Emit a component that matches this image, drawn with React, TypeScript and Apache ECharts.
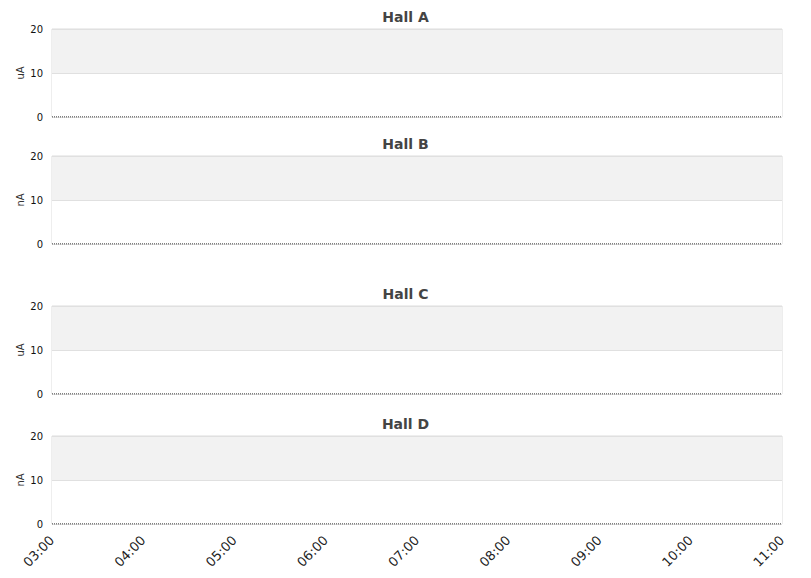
import { useEffect, useRef } from 'react'
import * as echarts from 'echarts'

const halls = ['Hall A', 'Hall B', 'Hall C', 'Hall D']
const units = ['uA', 'nA', 'uA', 'nA']
const hours = [3, 4, 5, 6, 7, 8, 9, 10, 11]
const currentValues = [0, 0, 0, 0, 0, 0, 0, 0, 0]

const gridTops = [29, 156, 306, 436]
const titleTops = [10, 137, 287, 417]

function hourLabel(value: number): string {
  return `${String(value).padStart(2, '0')}:00`
}

export default function App() {
  const chartRef = useRef<HTMLDivElement | null>(null)

  useEffect(() => {
    if (!chartRef.current) {
      return undefined
    }

    const chart = echarts.init(chartRef.current, undefined, { renderer: 'svg' })

    chart.setOption({
      animation: false,
      backgroundColor: '#fff',
      textStyle: { fontFamily: 'DejaVu Sans' },
      title: halls.map((hall, index) => ({
        text: hall,
        left: 'center',
        top: titleTops[index],
        padding: 0,
        textStyle: { fontSize: 14, fontWeight: 'bold', color: '#444', fontFamily: 'DejaVu Sans' },
      })),
      grid: gridTops.map((top) => ({
        left: 52,
        right: 29,
        top,
        height: 88,
        show: true,
        borderColor: '#dcdcdc',
        borderWidth: 1,
        backgroundColor: 'transparent',
      })),
      xAxis: halls.map((_, index) => ({
        type: 'value',
        gridIndex: index,
        min: 3,
        max: 11,
        interval: 1,
        axisLine: { show: false },
        axisTick: { show: false },
        splitLine: { show: false },
        axisLabel: {
          show: index === halls.length - 1,
          rotate: 45,
          fontSize: 13,
          color: '#222',
          margin: 14,
          formatter: (value: number) => hourLabel(value),
        },
      })),
      yAxis: halls.map((_, index) => ({
        type: 'value',
        gridIndex: index,
        min: 0,
        max: 20,
        interval: 10,
        name: units[index],
        nameLocation: 'middle',
        nameGap: 27,
        nameMoveOverlap: false,
        nameTextStyle: { fontSize: 10, color: '#333' },
        axisLine: { show: false },
        axisTick: { show: false },
        axisLabel: { fontSize: 10, color: '#111', margin: 9 },
        splitLine: { show: true, lineStyle: { color: '#e0e0e0' } },
        splitArea: { show: true, areaStyle: { color: ['#ffffff', '#f2f2f2'] } },
      })),
      series: halls.map((hall, index) => ({
        name: hall,
        type: 'line',
        xAxisIndex: index,
        yAxisIndex: index,
        showSymbol: false,
        lineStyle: { color: '#000', width: 1, type: 'dotted' },
        data: hours.map((hour, i) => [hour, currentValues[i]]),
      })),
    })

    return () => {
      chart.dispose()
    }
  }, [])

  return (
    <div
      ref={chartRef}
      style={{ position: 'fixed', left: 0, top: 0, width: 811, height: 578 }}
    />
  )
}
